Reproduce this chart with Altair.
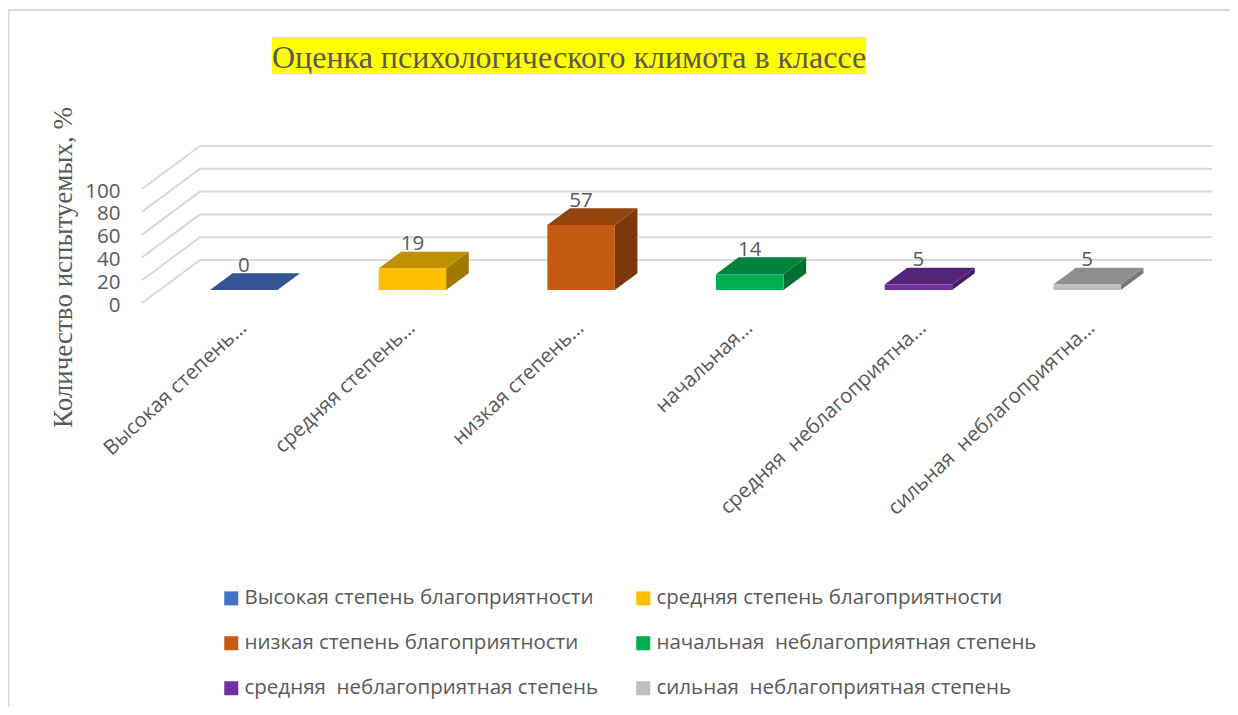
import altair as alt
import pandas as pd

FULL = ["Высокая степень благоприятности", "средняя степень благоприятности",
        "низкая степень благоприятности", "начальная\u00a0 неблагоприятная степень",
        "средняя\u00a0 неблагоприятная степень", "сильная\u00a0 неблагоприятная степень"]
SHORT = ["Высокая степень…", "средняя степень…", "низкая степень…", "начальная…",
         "средняя\u00a0 неблагоприятна…", "сильная\u00a0 неблагоприятна…"]
VALUES = [0, 19, 57, 14, 5, 5]
FRONT = ["#4472C4", "#FFC000", "#C55A11", "#00B050", "#7030A0", "#BFBFBF"]
TOP = ["#335593", "#BF9000", "#94440D", "#00843C", "#542478", "#8F8F8F"]
SIDE = ["#2B487B", "#A07900", "#7C380B", "#006F32", "#461E65", "#787878"]
TICKS = [0, 20, 40, 60, 80, 100]
TITLE = "Оценка психологического климота в классе"
YTITLE = "Количество испытуемых, %"

CAT_PX, VAL_PX = 168.67, 1.14
W, H = 1070, 158
DX, DY = 58 / CAT_PX, 43 / VAL_PX          # full floor depth in data units
D0, D1 = 0.30, 0.69                        # bar front/back as fraction of depth
HALF = 0.2
GREY = "#595959"
FONT = "Open Sans"
SERIF = "Liberation Serif"
LONG_LABEL_NUDGE = 5 / CAT_PX              # the two long labels sit a little further right

xs = alt.Scale(domain=[0, W / CAT_PX], nice=False, zero=False)
ys = alt.Scale(domain=[0, H / VAL_PX], nice=False, zero=False)
yaxis = alt.Axis(values=TICKS, grid=False, domain=False, ticks=False, labelPadding=22,
                 labelOffset=2, labelOverlap=False,
                 labelFont=FONT, labelFontSize=20.5, labelColor=GREY, title=YTITLE,
                 titleFont=SERIF, titleFontSize=27, titleFontWeight="normal",
                 titleColor=GREY, titleX=-65, titleY=122, titleAngle=270)
X = lambda f: alt.X(f, type="quantitative", scale=xs, axis=None)
Y = lambda f: alt.Y(f, type="quantitative", scale=ys, axis=yaxis, title=YTITLE)

grid = pd.DataFrame({"v": TICKS})
grid["x0"], grid["x1"], grid["xe"] = 0.0, DX, 6 + DX
grid["yb"] = grid.v + DY
wall = (alt.Chart(grid).mark_rule(color="#d9d9d9", strokeWidth=2)
        .encode(x=X("x1"), x2="xe", y=Y("yb")))
diag = (alt.Chart(grid).mark_rule(color="#d9d9d9", strokeWidth=2)
        .encode(x=X("x0"), x2="x1", y=Y("v"), y2="yb"))

rows, tops, sides = [], [], []
for i, (name, v) in enumerate(zip(FULL, VALUES)):
    cx = i + 0.5 + DX * D0
    y0 = DY * D0
    dx, dy = DX * (D1 - D0), DY * (D1 - D0)
    xl, xr = cx - HALF, cx + HALF
    yt = y0 + v
    rows.append(dict(name=name, short=SHORT[i], v=v, xl=xl, xr=xr, y0=y0, yt=yt, cx=cx,
                     lx=cx + (LONG_LABEL_NUDGE if i >= 4 else 0),
                     lab=yt + dy + 7.5 / VAL_PX, i=i, ty=-13))
    for k, (a, b, c) in enumerate([(xl, yt, yt), (xl + dx, yt + dy, yt),
                                   (xr, yt + dy, yt), (xr + dx, yt + dy, yt + dy)]):
        tops.append(dict(c=TOP[i], i=i, k=k, px=a, py=b, py2=c))
    for k, (a, b, c) in enumerate([(xr, yt, y0), (xr + dx, yt + dy, y0 + dy)]):
        sides.append(dict(c=SIDE[i], i=i, k=k, px=a, py=b, py2=c))
df = pd.DataFrame(rows)
tdf, sdf = pd.DataFrame(tops), pd.DataFrame(sides)

front = (alt.Chart(df).mark_rect().encode(
    x=X("xl"), x2="xr", y=Y("y0"), y2="yt",
    color=alt.Color("name:N", sort=FULL,
                    scale=alt.Scale(domain=FULL, range=FRONT),
                    legend=alt.Legend(
                        orient="none", legendX=79, legendY=443, columns=2, title=None,
                        direction="horizontal",
                        symbolType="square", symbolSize=196, symbolStrokeWidth=0,
                        labelFont=FONT, labelFontSize=20.5, labelColor=GREY,
                        labelLimit=500, rowPadding=24, columnPadding=34,
                        labelOffset=3, symbolOpacity=1, gridAlign="each"))))

def face(frame, colour):
    return (alt.Chart(frame).mark_area(color=colour, interpolate="linear", orient="vertical")
            .encode(x=X("px"), y=Y("py"), y2="py2"))

tops_l = [face(tdf[tdf.i == i], TOP[i]) for i in range(6)]
sides_l = [face(sdf[sdf.i == i], SIDE[i]) for i in range(6)]

labels = (alt.Chart(df).mark_text(font=FONT, fontSize=20.5, color=GREY, baseline="bottom", align="center", dy=10)
          .encode(x=X("cx"), y=Y("lab"), text="v:Q"))
xlabels = (alt.Chart(df).mark_text(font=FONT, fontSize=20.5, color=GREY, angle=317, align="right", baseline="middle", dx=-5, dy=5)
           .encode(x=X("lx"), y=Y("ty"), text="short:N"))

t = pd.DataFrame({"t": [TITLE]})
hl = (alt.Chart(t).mark_rect(color="#FFFF00").encode(
    x=alt.value(130), x2=alt.value(724), y=alt.value(-108), y2=alt.value(-71)))
title = (alt.Chart(t).mark_text(font=SERIF, fontSize=32, color=GREY, align="left", baseline="middle")
         .encode(x=alt.value(130), y=alt.value(-87), text="t:N"))
frame_top = (alt.Chart(t).mark_rule(color="#d9d9d9", strokeWidth=2).encode(
    x=alt.value(-134), x2=alt.value(1088), y=alt.value(-135)))
frame_left = (alt.Chart(t).mark_rule(color="#d9d9d9", strokeWidth=2).encode(
    x=alt.value(-133.5), y=alt.value(-135), y2=alt.value(562)))

chart = (alt.layer(frame_top, frame_left, wall, diag, *sides_l, *tops_l, front, labels, xlabels, hl, title)
         .properties(width=W, height=H, autosize=alt.AutoSizeParams(type="none"),
                     padding={"left": 134, "top": 137, "right": 18, "bottom": 404})
         .configure_view(stroke=None))
chart.save("out.html", embed_options={"renderer": "svg", "actions": False})
